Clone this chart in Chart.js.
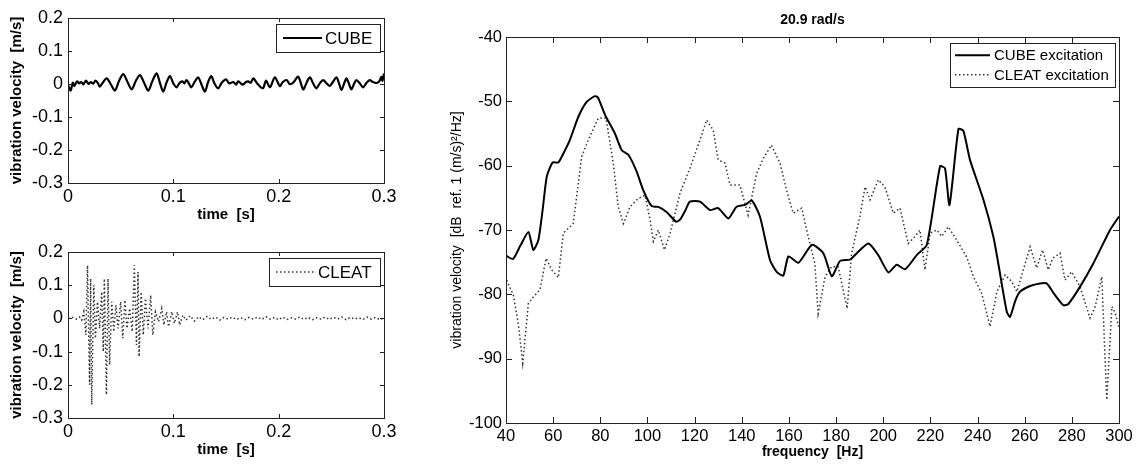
<!DOCTYPE html>
<html>
<head>
<meta charset="utf-8">
<script src="https://cdn.jsdelivr.net/npm/chart.js@4/dist/chart.umd.min.js"></script>
<style>
  body { margin: 0; background: #fff; }
  canvas { position: absolute; }
</style>
</head>
<body>
<canvas id="cube" width="400" height="228" style="left:0;top:0"></canvas>
<canvas id="cleat" width="400" height="236" style="left:0;top:230px"></canvas>
<canvas id="spectrum" width="709" height="466" style="left:430px;top:0"></canvas>
<script>
const FONT = '"Liberation Sans", Arial, sans-serif';

// time signal, cube excitation
const cubeTime = [0.000, 0.0025, 0.0045, 0.0060, 0.0085, 0.0105, 0.0125, 0.0145, 0.0170, 0.0195,
  0.0215, 0.0240, 0.0260, 0.0285, 0.0300, 0.0330, 0.0367, 0.0405, 0.0446, 0.0485,
  0.0525, 0.0565, 0.0604, 0.0645, 0.0683, 0.0722, 0.0762, 0.0800, 0.0841, 0.0872,
  0.0904, 0.0935, 0.0967, 0.1000, 0.1030, 0.1060, 0.1087, 0.1105, 0.1125, 0.1150,
  0.1170, 0.1205, 0.1236, 0.1268, 0.1300, 0.1330, 0.1360, 0.1390, 0.1425, 0.1460,
  0.1500, 0.1530, 0.1570, 0.1595, 0.1615, 0.1640, 0.1660, 0.1690, 0.1710, 0.1735,
  0.1760, 0.1800, 0.1850, 0.1880, 0.1917, 0.1964, 0.2011, 0.2040, 0.2075, 0.2105,
  0.2138, 0.2185, 0.2233, 0.2265, 0.2296, 0.2330, 0.2359, 0.2390, 0.2422, 0.2455,
  0.2485, 0.2515, 0.2549, 0.2575, 0.2596, 0.2620, 0.2643, 0.2668, 0.2691, 0.2715,
  0.2738, 0.2770, 0.2801, 0.2835, 0.2864, 0.2895, 0.2928, 0.2955, 0.2975, 0.2985, 0.3000];
const cubeVel = [-0.002, -0.020, 0.004, -0.006, 0.008, 0.002, 0.006, -0.001, 0.010, 0.000,
  0.006, 0.001, 0.010, 0.002, -0.008, 0.004, 0.017, 0.000, -0.020, 0.010,
  0.030, 0.006, -0.016, 0.010, 0.027, 0.004, -0.020, 0.008, 0.032, 0.004,
  -0.023, 0.004, 0.024, 0.002, -0.010, 0.004, 0.008, 0.002, 0.012, 0.000,
  -0.010, 0.008, 0.020, -0.002, -0.023, 0.006, 0.024, 0.002, -0.013, 0.004,
  0.014, 0.002, 0.006, -0.002, 0.008, 0.002, -0.002, 0.006, 0.008, 0.004,
  0.017, 0.000, -0.013, 0.010, -0.010, 0.020, -0.006, 0.006, 0.012, 0.000,
  0.004, 0.022, -0.016, 0.004, 0.020, 0.000, -0.013, 0.002, 0.012, 0.002,
  -0.006, 0.006, 0.020, 0.000, -0.018, 0.000, 0.017, 0.000, -0.016, 0.000,
  0.012, 0.002, -0.010, 0.004, 0.012, 0.006, 0.003, 0.008, 0.022, 0.010, 0.032];

// time signal, cleat excitation
const cleatTime = [0.000, 0.004, 0.008, 0.011, 0.013, 0.015, 0.017, 0.0185, 0.0205, 0.0215,
  0.0225, 0.0245, 0.0260, 0.0280, 0.0300, 0.0320, 0.0335, 0.0345, 0.0365, 0.0380,
  0.0395, 0.0415, 0.0435, 0.0455, 0.0475, 0.0500, 0.0520, 0.0540, 0.0560, 0.0585,
  0.0610, 0.0630, 0.0650, 0.0665, 0.0675, 0.0695, 0.0715, 0.0735, 0.0760, 0.0785,
  0.0805, 0.0830, 0.0860, 0.0890, 0.0910, 0.0935, 0.0955, 0.0985, 0.101, 0.104,
  0.106, 0.109, 0.112, 0.116, 0.120, 0.124, 0.128, 0.132, 0.136, 0.140,
  0.144, 0.148, 0.152, 0.156, 0.160, 0.164, 0.168, 0.172, 0.176, 0.180,
  0.184, 0.188, 0.192, 0.196, 0.200, 0.204, 0.208, 0.212, 0.216, 0.220,
  0.224, 0.228, 0.232, 0.236, 0.240, 0.244, 0.248, 0.252, 0.256, 0.260,
  0.264, 0.268, 0.272, 0.276, 0.280, 0.284, 0.288, 0.292, 0.296, 0.300];
const cleatVel = [0.000, 0.003, -0.002, 0.004, -0.005, 0.020, -0.050, 0.160, -0.200, 0.120,
  -0.260, 0.100, -0.060, 0.050, -0.030, 0.080, -0.100, 0.120, -0.230, 0.120,
  -0.140, 0.050, -0.040, 0.040, -0.030, 0.050, -0.060, 0.055, -0.030, 0.030,
  -0.040, 0.160, -0.080, 0.140, -0.115, 0.080, -0.050, 0.060, -0.030, 0.070,
  -0.050, 0.020, -0.010, 0.030, -0.020, 0.020, -0.025, 0.020, -0.015, 0.020,
  -0.020, 0.010, -0.005, 0.008, -0.008, 0.005, -0.004, 0.006, -0.003, 0.004,
  -0.005, 0.003, -0.002, 0.004, -0.003, 0.002, -0.004, 0.003, -0.002, 0.004,
  -0.003, 0.005, -0.002, 0.003, -0.004, 0.004, -0.003, 0.002, -0.002, 0.004,
  -0.003, 0.003, -0.004, 0.002, -0.002, 0.004, -0.003, 0.003, -0.002, 0.004,
  -0.004, 0.003, -0.002, 0.002, -0.003, 0.004, -0.002, 0.003, -0.004, 0.002];

// spectra at 20.9 rad/s
const cubeFreq = [40, 43, 46, 49.5, 51.6, 53.7, 55.5, 57.3, 59.8, 62.2,
  64.5, 67.1, 70.7, 74.2, 77.7, 79, 82, 86.2, 89.1, 91.9,
  95.4, 98.2, 101.8, 104.6, 108.1, 112.1, 113.8, 116, 118, 122.3,
  126.5, 130, 134.3, 137.8, 141.4, 144.2, 147.7, 152, 154.8, 157.6,
  159.8, 164, 169.8, 174.6, 178.2, 181.7, 185.9, 188.8, 193.7, 197.9,
  202.2, 205.7, 209.3, 214.2, 218.5, 224.1, 226.2, 228.1, 231.9, 234.0,
  236.8, 242.5, 246.7, 248.8, 252.4, 253.8, 256, 258, 262.3, 266.5,
  269.3, 272.8, 276.4, 278.5, 283.5, 289.1, 296.2, 300];
const cubeDb = [-74.0, -74.5, -72.5, -70.3, -73.1, -71.6, -67.0, -61.7, -59.5, -59.5,
  -58.0, -56.0, -52.4, -50.1, -49.2, -49.4, -52.1, -55.0, -57.6, -58.3,
  -60.9, -63.8, -66.3, -66.4, -67.2, -68.7, -68.4, -67.0, -65.6, -65.6,
  -66.9, -66.6, -68.2, -66.4, -66.1, -65.4, -67.9, -74.7, -76.5, -77.1,
  -74.1, -75.1, -72.3, -73.6, -77.2, -74.8, -74.6, -73.6, -72.1, -73.9,
  -76.6, -75.4, -76.1, -73.9, -72.3, -60.1, -60.4, -66.1, -54.3, -54.6,
  -59.1, -65.3, -71.0, -75.2, -82.7, -83.5, -81.0, -79.6, -78.7, -78.3,
  -78.3, -80.1, -81.7, -81.5, -78.8, -75.2, -70.0, -67.9];
const cleatFreq = [40.3, 43.1, 45.2, 47.1, 49.5, 51.6, 54.4, 57.0, 59.4, 62.2,
  64.3, 67.1, 68.5, 72.1, 74.9, 79.2, 82.4, 85.5, 87.6, 89.8,
  92.6, 96.1, 99.0, 101.1, 102.5, 104.6, 107.2, 109.6, 113.8, 118.0,
  122.3, 125.1, 127.9, 130.0, 132.9, 135.0, 139.2, 142.7, 146.3, 149.1,
  152.6, 156.2, 159.0, 161.8, 165.4, 168.9, 171.0, 172.4, 175.3, 178.1,
  180.9, 184.7, 186.6, 190.1, 192.3, 194.4, 197.9, 200.7, 204.3, 207.1,
  210.6, 213.5, 215.6, 217.7, 219.9, 222.7, 224.8, 227.6, 231.2, 235.4,
  238.3, 241.8, 245.3, 248.2, 251.7, 254.5, 256.7, 259.4, 262.3, 265.1,
  267.6, 270.0, 271.9, 275.0, 277.1, 279.9, 283.5, 287.7, 289.9, 292.7,
  294.8, 297.0, 298.4, 299.8];
const cleatDb = [-77.8, -80.1, -84.5, -90.7, -81.4, -80.4, -79.3, -74.4, -76.2, -77.4,
  -70.5, -69.5, -69.0, -58.6, -56.0, -52.6, -52.6, -59.6, -66.4, -69.0,
  -66.4, -65.1, -64.6, -68.4, -71.8, -70.0, -73.1, -70.5, -64.3, -60.4,
  -56.0, -52.9, -54.5, -59.1, -59.6, -63.0, -63.0, -67.7, -61.2, -58.9,
  -56.8, -59.6, -63.8, -67.4, -66.6, -72.1, -75.2, -83.0, -77.3, -75.7,
  -75.7, -82.2, -73.6, -67.9, -63.3, -65.3, -62.2, -63.3, -67.4, -66.6,
  -72.1, -71.0, -70.0, -76.2, -70.5, -70.0, -71.0, -69.5, -71.6, -74.2,
  -77.3, -79.9, -85.0, -79.6, -77.0, -78.0, -79.6, -76.2, -72.6, -75.9,
  -73.1, -76.2, -74.4, -73.6, -77.8, -76.5, -78.8, -83.7, -81.9, -77.3,
  -96.4, -81.9, -82.9, -85.0];

const pairs = (xs, ys) => xs.map((x, i) => ({ x, y: ys[i] }));

Chart.defaults.font.family = FONT;
Chart.defaults.color = '#000';

// axes frame with inward tick marks on all four sides
const boxTicks = {
  id: 'boxTicks',
  afterDatasetsDraw(chart, args, o) {
    const { ctx, chartArea: a, scales: { x, y } } = chart;
    const len = o.len;
    ctx.save();
    ctx.strokeStyle = '#222';
    ctx.lineWidth = 1;
    ctx.beginPath();
    x.ticks.forEach(t => {
      const px = Math.round(x.getPixelForValue(t.value)) + 0.5;
      ctx.moveTo(px, a.bottom); ctx.lineTo(px, a.bottom - len);
      ctx.moveTo(px, a.top); ctx.lineTo(px, a.top + len);
    });
    y.ticks.forEach(t => {
      const py = Math.round(y.getPixelForValue(t.value)) + 0.5;
      ctx.moveTo(a.left, py); ctx.lineTo(a.left + len, py);
      ctx.moveTo(a.right, py); ctx.lineTo(a.right - len, py);
    });
    ctx.stroke();
    ctx.strokeRect(a.left + 0.5, a.top + 0.5, a.right - a.left, a.bottom - a.top);
    ctx.restore();
  }
};

// boxed legend in the upper right corner
const boxLegend = {
  id: 'boxLegend',
  afterDraw(chart, args, o) {
    const { ctx, chartArea: a } = chart;
    const sets = chart.data.datasets;
    ctx.save();
    ctx.font = o.size + 'px ' + FONT;
    const textW = Math.max(...sets.map(d => ctx.measureText(d.label).width));
    const w = Math.round(o.padL + o.sample + o.gap + textW + o.padR);
    const h = Math.round(sets.length * o.rowH + o.padY * 2);
    const x0 = Math.round(a.right - o.right - w);
    const y0 = Math.round(a.top + o.top);
    ctx.fillStyle = '#fff';
    ctx.fillRect(x0, y0, w, h);
    ctx.strokeStyle = '#222';
    ctx.lineWidth = 1;
    ctx.strokeRect(x0 + 0.5, y0 + 0.5, w, h);
    sets.forEach((d, i) => {
      const cy = y0 + o.padY + o.rowH * (i + 0.5);
      ctx.beginPath();
      ctx.setLineDash(d.borderDash || []);
      ctx.lineWidth = d.borderWidth;
      ctx.strokeStyle = d.borderColor;
      ctx.moveTo(x0 + o.padL, cy);
      ctx.lineTo(x0 + o.padL + o.sample, cy);
      ctx.stroke();
      ctx.setLineDash([]);
      ctx.fillStyle = '#000';
      ctx.textBaseline = 'middle';
      ctx.fillText(d.label, x0 + o.padL + o.sample + o.gap, cy + 1);
    });
    ctx.restore();
  }
};

const solid = { borderColor: '#000', borderWidth: 2, pointRadius: 0, tension: 0 };
const dotted = { borderColor: '#333', borderWidth: 1.5, borderDash: [1.5, 2.5], pointRadius: 0, tension: 0 };

const smallLegend = { size: 17, padL: 7, sample: 39, gap: 3, padR: 8, rowH: 27, padY: 0.5, top: 6, right: 4 };

function timeChart(id, dataset, xHeight, titlePad) {
  return new Chart(document.getElementById(id), {
    type: 'line',
    data: { datasets: [dataset] },
    plugins: [boxTicks, boxLegend],
    options: {
      responsive: false,
      animation: false,
      events: [],
      layout: { padding: { top: id === 'cube' ? 18 : 22, right: 16, left: 0, bottom: 0 } },
      scales: {
        x: {
          type: 'linear', min: 0, max: 0.3,
          afterFit: s => { s.height = xHeight; },
          grid: { display: false, drawTicks: false }, border: { display: false },
          ticks: { stepSize: 0.1, padding: 3, maxRotation: 0, font: { size: 18 } },
          title: { display: true, text: 'time  [s]', font: { size: 15, weight: 'bold' }, padding: { top: 0, bottom: titlePad } }
        },
        y: {
          type: 'linear', min: -0.3, max: 0.2,
          afterFit: s => { s.width = 68; },
          grid: { display: false, drawTicks: false }, border: { display: false },
          ticks: { stepSize: 0.1, padding: 5, font: { size: 18 } },
          title: { display: true, text: 'vibration velocity  [m/s]', font: { size: 15, weight: 'bold' }, padding: { top: 8, bottom: 0 } }
        }
      },
      plugins: {
        legend: { display: false },
        tooltip: { enabled: false },
        boxTicks: { len: 4 },
        boxLegend: smallLegend
      }
    }
  });
}

timeChart('cube', { label: 'CUBE', data: pairs(cubeTime, cubeVel), ...solid, borderWidth: 2.2, tension: 0.3 }, 45, 4);
timeChart('cleat', { label: 'CLEAT', data: pairs(cleatTime, cleatVel), ...dotted }, 48, 7);

new Chart(document.getElementById('spectrum'), {
  type: 'line',
  data: {
    datasets: [
      { label: 'CUBE excitation', data: pairs(cubeFreq, cubeDb), ...solid, tension: 0.2 },
      { label: 'CLEAT excitation', data: pairs(cleatFreq, cleatDb), ...dotted }
    ]
  },
  plugins: [boxTicks, boxLegend],
  options: {
    responsive: false,
    animation: false,
    events: [],
    layout: { padding: { top: 0, right: 20, left: 0, bottom: 0 } },
    scales: {
      x: {
        type: 'linear', min: 40, max: 300,
        afterFit: s => { s.height = 43; },
        grid: { display: false, drawTicks: false }, border: { display: false },
        ticks: { stepSize: 20, padding: 4, maxRotation: 0, font: { size: 16.5 } },
        title: { display: true, text: 'frequency  [Hz]', font: { size: 14, weight: 'bold' }, padding: { top: 0, bottom: 5.6 } }
      },
      y: {
        type: 'linear', min: -100, max: -40,
        afterFit: s => { s.width = 76; },
        grid: { display: false, drawTicks: false }, border: { display: false },
        ticks: { stepSize: 10, padding: 4, font: { size: 16.5 } },
        title: { display: true, text: 'vibration velocity  [dB  ref. 1 (m/s)²/Hz]', font: { size: 14 }, padding: { top: 18.6, bottom: 0 } }
      }
    },
    plugins: {
      legend: { display: false },
      tooltip: { enabled: false },
      title: {
        display: true, text: '20.9 rad/s', fullSize: false,
        font: { size: 14, weight: 'bold' }, padding: { top: 12, bottom: 8.2 }
      },
      boxTicks: { len: 6 },
      boxLegend: { size: 15, padL: 5, sample: 35, gap: 4, padR: 6, rowH: 19.7, padY: 2.3, top: 6, right: 4 }
    }
  }
});
</script>
</body>
</html>
